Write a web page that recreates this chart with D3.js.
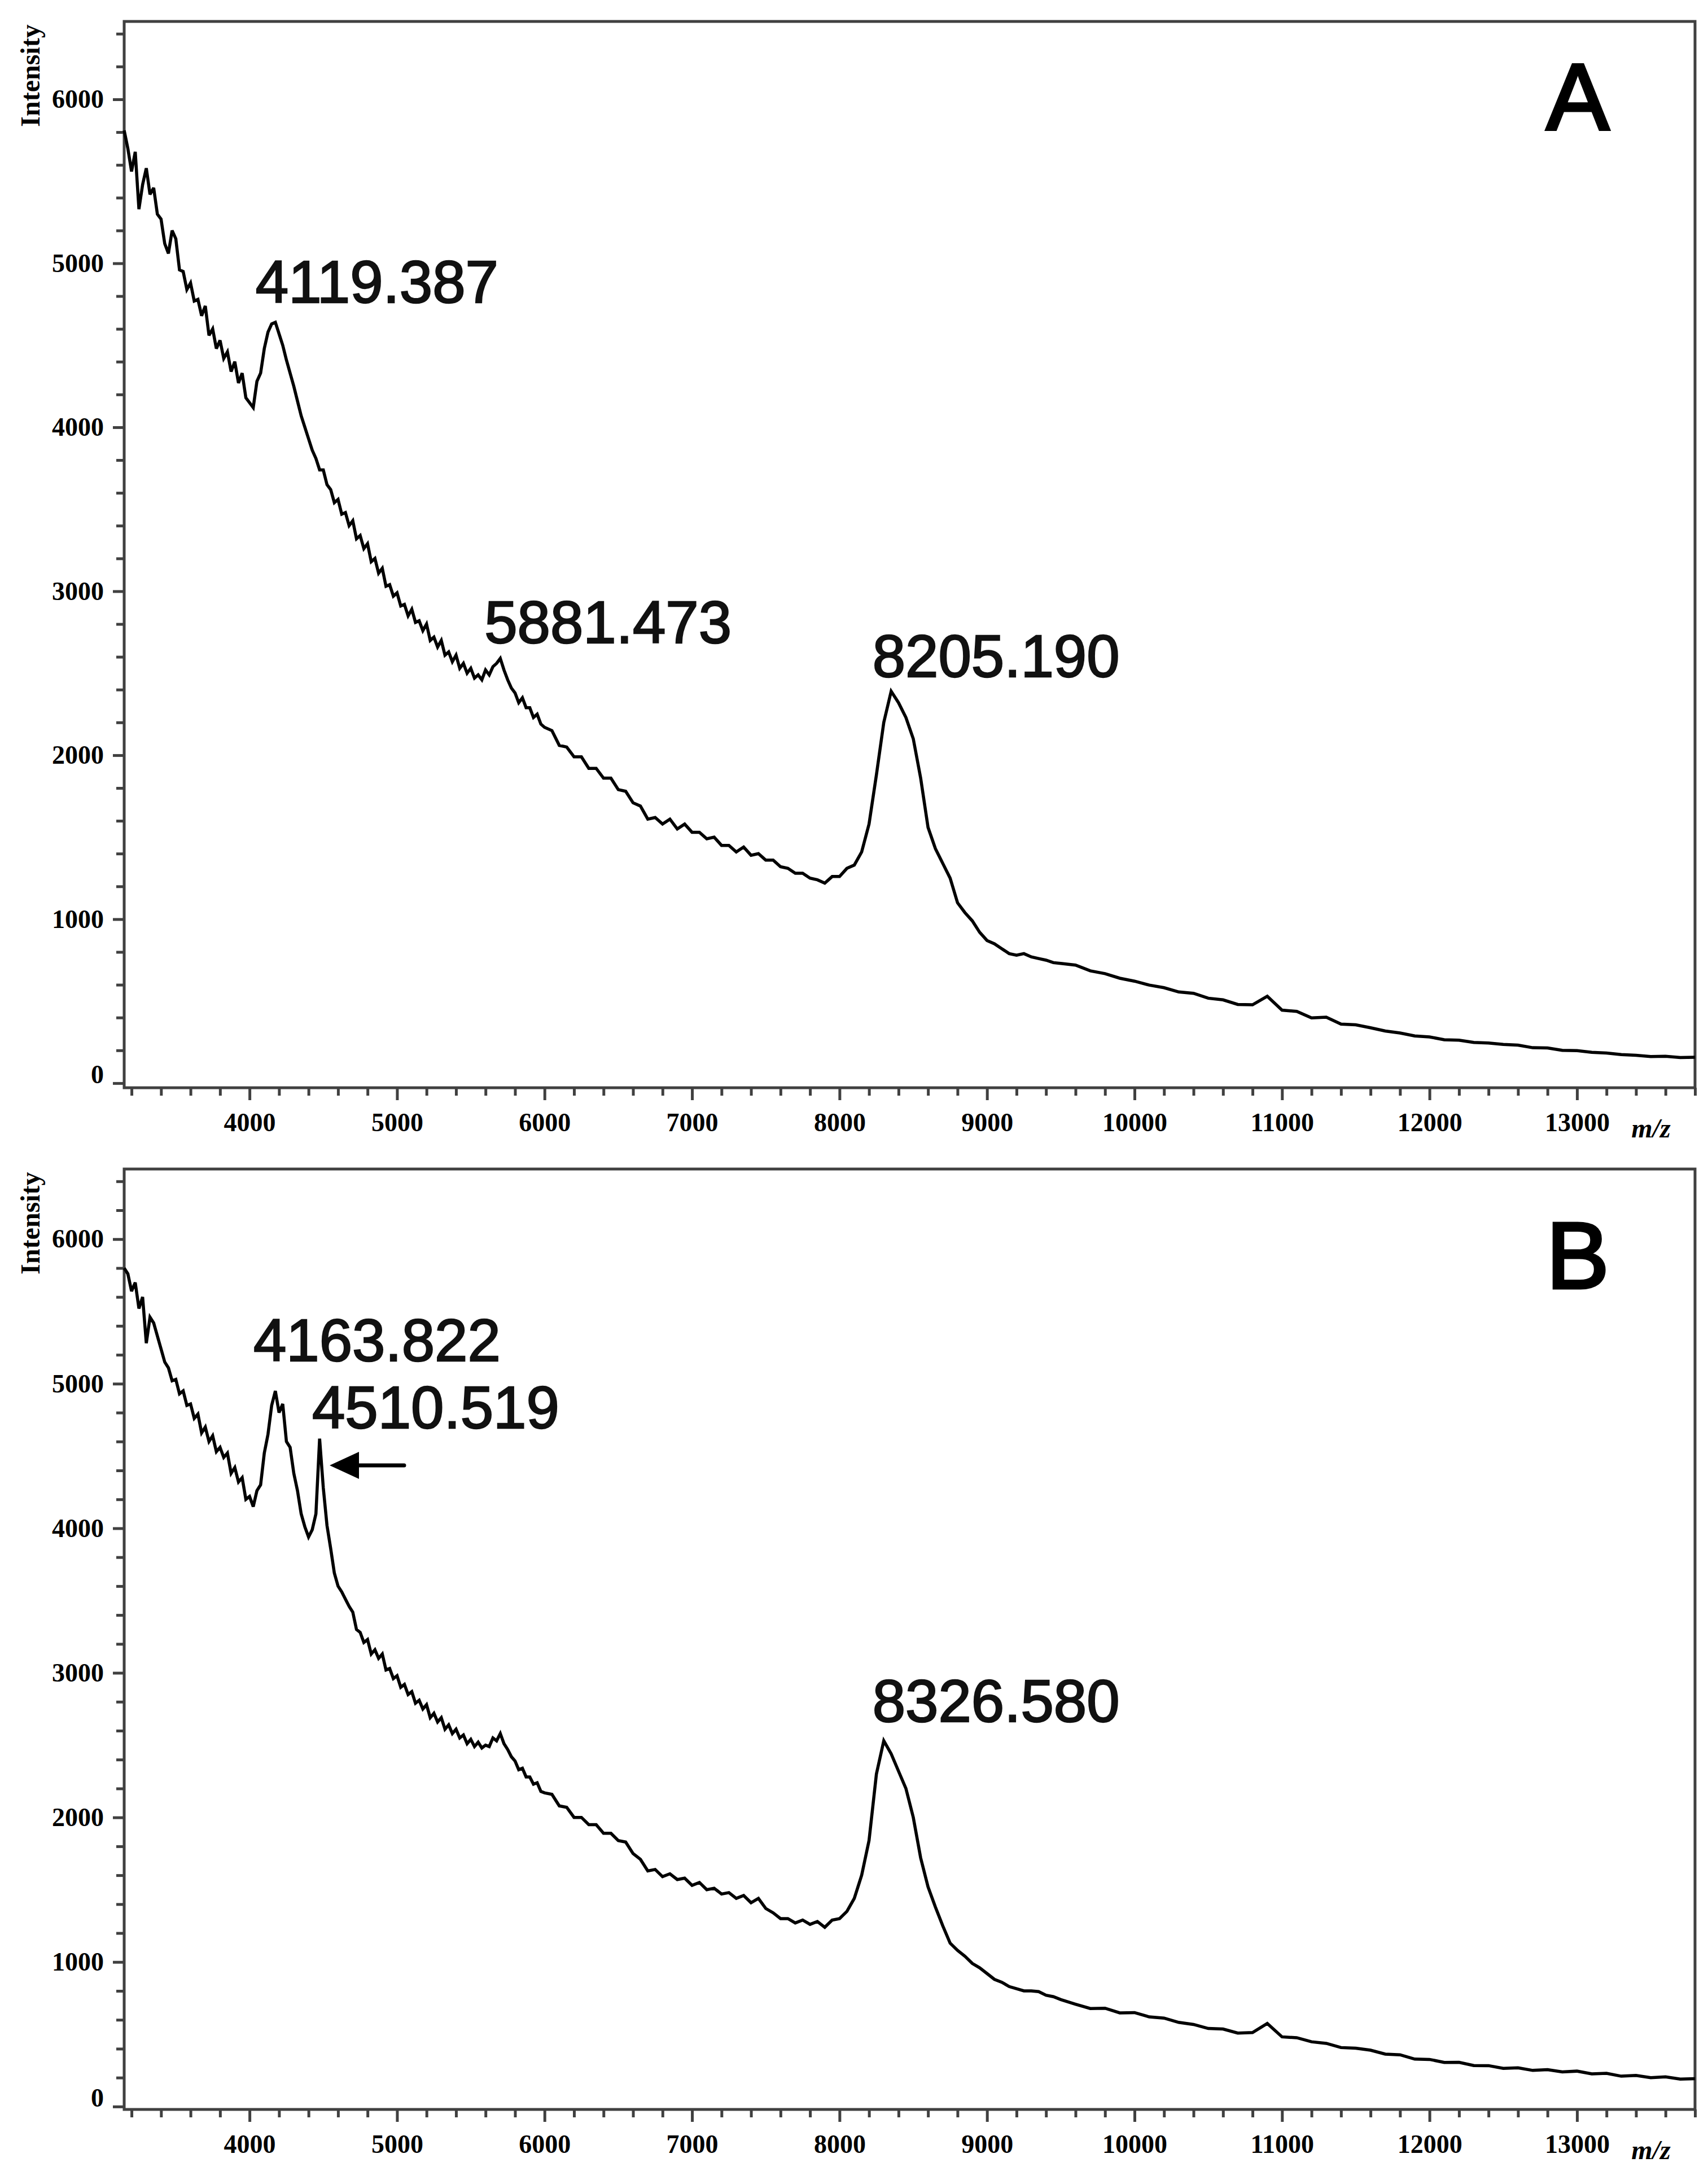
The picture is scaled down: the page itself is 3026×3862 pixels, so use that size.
<!DOCTYPE html>
<html>
<head>
<meta charset="utf-8">
<script src="https://cdn.jsdelivr.net/npm/d3@7"></script>
<style>
  body { margin: 0; background: #fff; }
</style>
</head>
<body>
<svg id="chart" width="3026" height="3862"></svg>
<script>
// m/z sampling grid: 25 Da in the noisy low-mass part, 50 Da to 9500, 100 Da on the tail
const mzGrid = d3.range(3150, 6000, 25)
  .concat(d3.range(6000, 9501, 50))
  .concat(d3.range(9600, 13801, 100));

// spectrum A
const intensityA = [
  // 3150 - 5975, step 25
  5810, 5700, 5560, 5680, 5330, 5480, 5580, 5420, 5460, 5300,
  5270, 5120, 5060, 5200, 5150, 4960, 4950, 4840, 4880, 4770,
  4780, 4680, 4740, 4560, 4600, 4480, 4530, 4420, 4460, 4340,
  4400, 4270, 4330, 4180, 4150, 4120, 4280, 4330, 4480, 4580,
  4630, 4640, 4570, 4500, 4410, 4330, 4250, 4160, 4070, 4000,
  3930, 3860, 3810, 3740, 3740, 3650, 3620, 3540, 3560, 3470,
  3480, 3400, 3430, 3320, 3340, 3260, 3290, 3180, 3200, 3110,
  3140, 3030, 3040, 2970, 2990, 2910, 2920, 2850, 2890, 2810,
  2820, 2760, 2800, 2700, 2720, 2660, 2700, 2610, 2630, 2570,
  2610, 2530, 2560, 2500, 2530, 2470, 2490, 2460, 2520, 2490,
  2540, 2560, 2590, 2520, 2460, 2410, 2380, 2320, 2350, 2290,
  2290, 2230, 2250, 2190,
  // 6000 - 9500, step 50
  2170, 2150, 2060, 2050, 1990, 1990, 1920, 1920, 1860, 1860,
  1790, 1780, 1710, 1690, 1610, 1620, 1580, 1610, 1550, 1580,
  1530, 1530, 1490, 1500, 1450, 1450, 1410, 1440, 1390, 1400,
  1360, 1360, 1320, 1310, 1280, 1280, 1250, 1240, 1220, 1260,
  1260, 1310, 1330, 1410, 1580, 1880, 2200, 2390, 2320, 2230,
  2100, 1860, 1560, 1430, 1340, 1250, 1100, 1040, 990, 920,
  870, 850, 820, 790, 780, 790, 770, 760, 750, 735, 730,
  // 9600 - 13800, step 100
  720, 685, 668, 640, 622, 598, 582, 556, 548, 518,
  508, 480, 478, 530, 445, 438, 398, 402, 360, 356,
  338, 318, 306, 288, 282, 265, 262, 248, 245, 236,
  232, 216, 215, 200, 198, 188, 184, 174, 170, 162,
  164, 156, 158
];

// spectrum B
const intensityB = [
  // 3150 - 5975, step 25
  5800, 5760, 5640, 5700, 5520, 5600, 5280, 5460, 5420, 5330,
  5240, 5150, 5110, 5020, 5030, 4930, 4950, 4850, 4860, 4760,
  4790, 4660, 4700, 4600, 4640, 4530, 4560, 4490, 4520, 4380,
  4420, 4320, 4350, 4200, 4220, 4150, 4260, 4300, 4520, 4650,
  4850, 4950, 4800, 4860, 4600, 4560, 4380, 4260, 4100, 4010,
  3940, 3990, 4100, 4620, 4280, 4020, 3860, 3690, 3600, 3560,
  3510, 3460, 3420, 3300, 3280, 3210, 3230, 3130, 3160, 3100,
  3130, 3020, 3030, 2960, 2980, 2900, 2920, 2850, 2870, 2790,
  2810, 2750, 2780, 2690, 2720, 2660, 2690, 2610, 2640, 2580,
  2610, 2550, 2570, 2510, 2540, 2490, 2520, 2480, 2500, 2490,
  2550, 2530, 2580, 2510, 2470, 2420, 2390, 2330, 2340, 2280,
  2280, 2230, 2240, 2180,
  // 6000 - 9500, step 50
  2170, 2160, 2080, 2070, 2000, 2000, 1950, 1950, 1890, 1890,
  1840, 1830, 1750, 1710, 1630, 1640, 1590, 1610, 1570, 1580,
  1530, 1550, 1500, 1510, 1470, 1480, 1440, 1460, 1410, 1440,
  1370, 1340, 1300, 1300, 1270, 1290, 1260, 1280, 1240, 1290,
  1300, 1350, 1440, 1600, 1840, 2300, 2530, 2440, 2320, 2200,
  2000, 1720, 1520, 1380, 1250, 1130, 1080, 1040, 990, 960,
  920, 880, 860, 830, 815, 800, 800, 795, 770, 760, 740,
  // 9600 - 13800, step 100
  708, 678, 680, 648, 650, 620, 612, 582, 568, 540,
  536, 508, 512, 575, 482, 476, 448, 437, 408, 404,
  390, 363, 358, 328, 326, 305, 306, 284, 283, 264,
  268, 250, 255, 240, 245, 226, 230, 210, 215, 200,
  205, 190, 193
];

const xMajorTicks = [4000, 5000, 6000, 7000, 8000, 9000, 10000, 11000, 12000, 13000];
const yMajorTicks = [0, 1000, 2000, 3000, 4000, 5000, 6000];

// peak annotations: text, centre m/z, baseline intensity
const peakTextA = ["4119.387", "5881.473", "8205.190"];
const peakMzA = [4864, 6430, 9061];
const peakYA = [4761, 2685, 2478];

const peakTextB = ["4163.822", "4510.519", "8326.580"];
const peakMzB = [4864, 5262, 9061];
const peakYB = [5157, 4693, 2662];

const svg = d3.select('#chart');
const axisColor = '#404040';

const x = d3.scaleLinear().domain([3150, 13800]).range([220, 3003]);

function drawPanel(opts) {
  const y = d3.scaleLinear().domain(opts.yDomain).range([opts.bottom, opts.top]);
  const g = svg.append('g');

  // frame
  g.append('rect')
    .attr('x', 220).attr('y', opts.top)
    .attr('width', 3003 - 220).attr('height', opts.bottom - opts.top)
    .attr('fill', 'none').attr('stroke', axisColor).attr('stroke-width', 5);

  // x minor / major ticks
  const xMinor = d3.range(3200, 13801, 200).filter(v => v % 1000 !== 0);
  g.append('g')
    .attr('transform', `translate(0,${opts.bottom})`)
    .call(d3.axisBottom(x).tickValues(xMinor).tickSize(14).tickFormat(''))
    .call(a => a.select('.domain').remove());
  const xAx = g.append('g')
    .attr('transform', `translate(0,${opts.bottom})`)
    .call(d3.axisBottom(x).tickValues(xMajorTicks).tickSize(22).tickPadding(22).tickFormat(d3.format('d')));
  xAx.select('.domain').remove();

  // y minor / major ticks
  const yMinor = d3.range(200, 6401, 200).filter(v => v % 1000 !== 0);
  g.append('g')
    .attr('transform', 'translate(220,0)')
    .call(d3.axisLeft(y).tickValues(yMinor).tickSize(14).tickFormat(''))
    .call(a => a.select('.domain').remove());
  const yAx = g.append('g')
    .attr('transform', 'translate(220,0)')
    .call(d3.axisLeft(y).tickValues(yMajorTicks).tickSize(20).tickPadding(16).tickFormat(d3.format('d')));
  yAx.select('.domain').remove();
  yAx.selectAll('.tick').filter(d => d === 0).select('text').attr('dy', '0.0em');

  g.selectAll('.tick line').attr('stroke', axisColor).attr('stroke-width', 5);
  g.selectAll('.tick text')
    .attr('fill', '#000')
    .style('font-family', '"Liberation Serif", "Times New Roman", serif')
    .style('font-weight', 'bold')
    .style('font-size', '46px');

  // axis titles
  g.append('text')
    .attr('transform', `translate(70,${opts.top + 96}) rotate(-90)`)
    .attr('text-anchor', 'middle')
    .style('font-family', '"Liberation Serif", serif')
    .style('font-weight', 'bold')
    .style('font-size', '48px')
    .text('Intensity');

  g.append('text')
    .attr('x', 2925).attr('y', opts.bottom + 88)
    .attr('text-anchor', 'middle')
    .style('font-family', '"Liberation Serif", serif')
    .style('font-weight', 'bold')
    .style('font-style', 'italic')
    .style('font-size', '48px')
    .text('m/z');

  // spectrum
  const line = d3.line()
    .x((d, i) => x(mzGrid[i]))
    .y(d => y(d));

  g.append('path')
    .datum(opts.values)
    .attr('d', line)
    .attr('fill', 'none')
    .attr('stroke', '#000')
    .attr('stroke-width', 5.5)
    .attr('stroke-linejoin', 'miter')
    .attr('stroke-miterlimit', 3);

  // peak labels
  g.selectAll('.peak')
    .data(opts.peakText)
    .enter()
    .append('text')
    .attr('x', (d, i) => x(opts.peakMz[i]))
    .attr('y', (d, i) => y(opts.peakY[i]))
    .attr('text-anchor', 'middle')
    .attr('fill', '#111')
    .attr('stroke', '#111')
    .attr('stroke-width', 2.5)
    .style('font-family', '"Liberation Sans", Arial, sans-serif')
    .style('font-size', '105px')
    .text(d => d);

  // panel letter
  g.append('text')
    .attr('x', x(13005))
    .attr('y', y(opts.letterY))
    .attr('text-anchor', 'middle')
    .attr('fill', '#000')
    .attr('stroke', '#000')
    .attr('stroke-width', 5)
    .style('font-family', '"Liberation Sans", Arial, sans-serif')
    .style('font-size', '167px')
    .text(opts.letter);

  return { g, y };
}

drawPanel({
  values: intensityA, top: 38, bottom: 1927, yDomain: [-28, 6475],
  peakText: peakTextA, peakMz: peakMzA, peakY: peakYA,
  letter: 'A', letterY: 5814
});

const panelB = drawPanel({
  values: intensityB, top: 2071, bottom: 3737, yDomain: [-20, 6485],
  peakText: peakTextB, peakMz: peakMzB, peakY: peakYB,
  letter: 'B', letterY: 5660
});

// arrow pointing at the 4510.519 spike
const arrowTip = [x(4543), panelB.y(4435)];
const arrowTail = [x(5048), panelB.y(4435)];
panelB.g.append('line')
  .attr('x1', arrowTail[0]).attr('y1', arrowTail[1])
  .attr('x2', arrowTip[0] + 40).attr('y2', arrowTip[1])
  .attr('stroke', '#000').attr('stroke-width', 7).attr('stroke-linecap', 'round');
panelB.g.append('path')
  .attr('d', `M${arrowTip[0]},${arrowTip[1]} L${arrowTip[0] + 52},${arrowTip[1] - 24} L${arrowTip[0] + 52},${arrowTip[1] + 24} Z`)
  .attr('fill', '#000');
</script>
</body>
</html>
